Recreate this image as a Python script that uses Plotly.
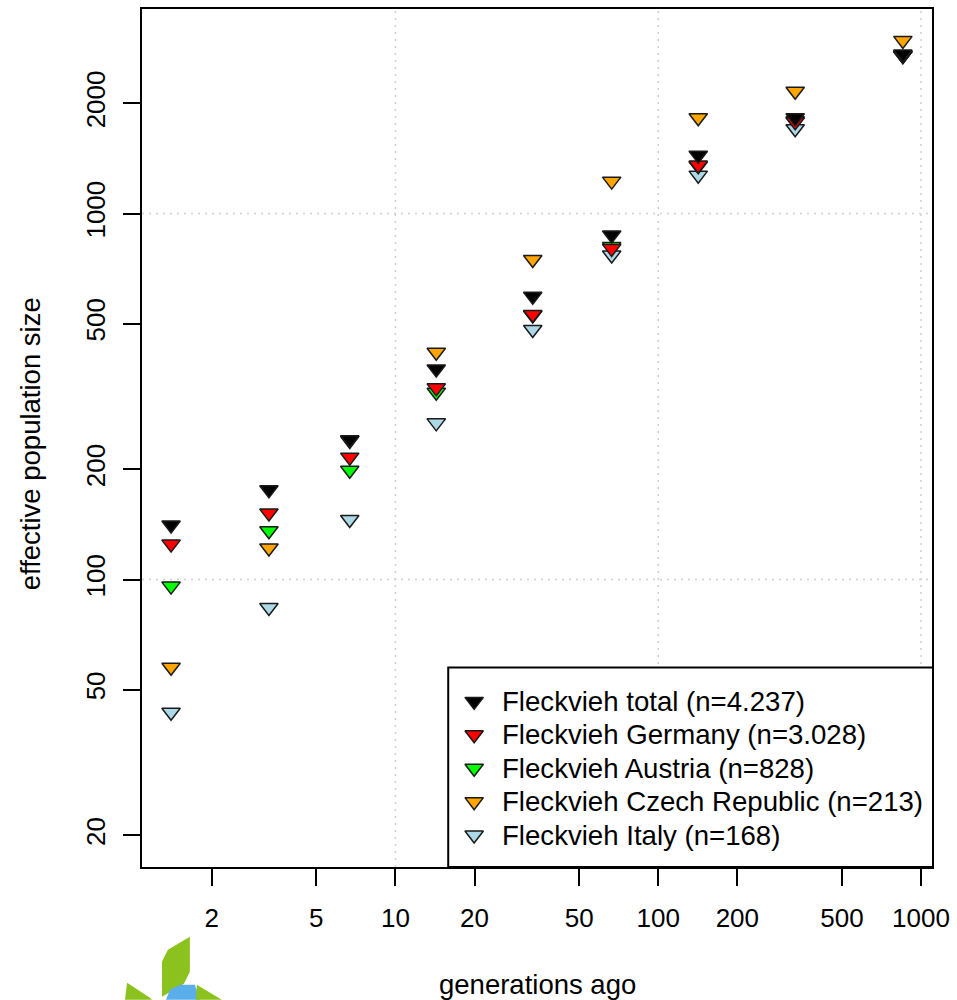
import plotly.graph_objects as go

# ---- data ----
generations = [1.4, 3.3, 6.7, 14.3, 33.3, 66.5, 142, 332, 853]
ne_total = [141, 176, 241, 376, 594, 874, 1443, 1826, 2729]
ne_germany = [125, 152, 216, 334, 530, 803, 1356, 1781, 2700]
ne_austria = [96, 136, 199, 325, 528, 813, 1350, 1792, 2700]
ne_czech = [57.6, 122, 240, 418, 749, 1226, 1826, 2157, 2971]
ne_italy = [43.4, 83.9, 146, 268, 482, 770, 1273, 1704, 2700]

series_names = [
    "Fleckvieh total (n=4.237)",
    "Fleckvieh Germany (n=3.028)",
    "Fleckvieh Austria (n=828)",
    "Fleckvieh Czech Republic (n=213)",
    "Fleckvieh Italy (n=168)",
]
series_values = [ne_total, ne_germany, ne_austria, ne_czech, ne_italy]
series_colors = ["#000000", "#ff0000", "#00ff00", "#ffa500", "#add8e6"]

x_ticks = [2, 5, 10, 20, 50, 100, 200, 500, 1000]
y_ticks = [20, 50, 100, 200, 500, 1000, 2000]
x_grid = [10, 100, 1000]
y_grid = [100, 1000]

FONT = "Arial, Liberation Sans, sans-serif"
MARKER_SIZE = 16
MARKER_LINE = dict(color="#1a1a1a", width=1.5)

# plot-area pixel box (for placing the legend box and decoration)
L, R_, T, B = 142, 934, 7, 867
def px(x, y):
    return (x - L) / (R_ - L), (B - y) / (B - T)

fig = go.Figure()
# draw in reverse so that "total" is on top
for name, vals, col in reversed(list(zip(series_names, series_values, series_colors))):
    fig.add_trace(go.Scatter(
        x=generations, y=vals, mode="markers", name=name, showlegend=False,
        marker=dict(symbol="triangle-down", size=MARKER_SIZE, color=col, line=MARKER_LINE),
    ))

# ---- legend (box + keys + labels), laid out like R's legend() ----
leg_left, leg_top, leg_right, leg_bottom = 449, 667, 935, 867
key_x = 475
text_x = 501
row_y = [701, 734.5, 768, 801.5, 835]
key_pos = [px(key_x, ry) for ry in row_y]
fig.add_trace(go.Scatter(
    x=[p[0] for p in key_pos], y=[p[1] for p in key_pos],
    xaxis="x2", yaxis="y2", mode="markers", showlegend=False, hoverinfo="skip",
    marker=dict(symbol="triangle-down", size=MARKER_SIZE, color=series_colors, line=MARKER_LINE),
))

shapes = []
for gx in x_grid:
    shapes.append(dict(type="line", xref="x", yref="paper", x0=gx, x1=gx,
                       y0=0, y1=1, layer="below",
                       line=dict(color="#cfcfcf", width=1.5, dash="2px,5px")))
for gy in y_grid:
    shapes.append(dict(type="line", xref="paper", yref="y", y0=gy, y1=gy,
                       x0=0, x1=1, layer="below",
                       line=dict(color="#cfcfcf", width=1.5, dash="2px,5px")))

lx0, ly0 = px(leg_left, leg_bottom)
lx1, ly1 = px(leg_right, leg_top)
shapes.append(dict(type="rect", xref="paper", yref="paper", x0=lx0, x1=lx1, y0=ly0, y1=ly1,
                   fillcolor="white", line=dict(color="black", width=2), layer="below"))

# decorative logo fragment (bottom-left)
def path(pts):
    s = ""
    for i, (x, y) in enumerate(pts):
        a, b = px(x, y)
        s += ("M" if i == 0 else "L") + f"{a:.4f},{b:.4f}"
    return s + "Z"
logo_green = "#8cc21e"
logo_blue = "#5aaeea"
logo = [
    ([(162, 962), (168, 950), (190, 937), (190, 972), (184, 984), (162, 997)], logo_green),
    ([(125, 1000), (127, 983), (150, 998), (152, 1000)], logo_green),
    ([(166, 1000), (170, 990), (180, 985), (195, 985), (200, 1000)], logo_blue),
    ([(196, 1000), (197, 985), (222, 1000)], logo_green),
]
for pts, c in logo:
    shapes.append(dict(type="path", xref="paper", yref="paper", path=path(pts),
                       fillcolor=c, line=dict(width=0), layer="above"))

annotations = [
    dict(text="generations ago", xref="paper", yref="paper", x=0.5, y=-0.1372,
         xanchor="center", yanchor="middle", showarrow=False,
         font=dict(family=FONT, size=27.5)),
    dict(text="effective population size", xref="paper", yref="paper", x=-0.1414, y=0.493,
         xanchor="center", yanchor="middle", showarrow=False, textangle=-90,
         font=dict(family=FONT, size=27.5)),
]
for name, ry in zip(series_names, row_y):
    ax, ay = px(text_x, ry)
    annotations.append(dict(text=name, xref="paper", yref="paper", x=ax, y=ay,
                            xanchor="left", yanchor="middle", showarrow=False,
                            font=dict(family=FONT, size=27.6, color="black")))

fig.update_layout(
    width=957, height=1000,
    margin=dict(l=142, r=23, t=7, b=133),
    paper_bgcolor="white", plot_bgcolor="white",
    font=dict(family=FONT, size=26, color="black"),
    showlegend=False,
    shapes=shapes,
    annotations=annotations,
    xaxis=dict(
        type="log", range=[0.0355, 3.0418],
        tickvals=x_ticks, ticktext=[str(v) for v in x_ticks],
        ticks="outside", ticklen=17, tickwidth=2, tickcolor="black",
        showgrid=False, zeroline=False,
        showline=True, linecolor="black", linewidth=2, mirror=True,
        tickfont=dict(family=FONT, size=26), ticklabelstandoff=10,
    ),
    yaxis=dict(
        type="log", range=[1.2149, 3.5587],
        tickvals=y_ticks, ticktext=[str(v) for v in y_ticks],
        ticks="outside", ticklen=17, tickwidth=2, tickcolor="black",
        showgrid=False, zeroline=False,
        showline=True, linecolor="black", linewidth=2, mirror=True,
        tickangle=-90,
        tickfont=dict(family=FONT, size=26), ticklabelstandoff=8,
    ),
    xaxis2=dict(overlaying="x", range=[0, 1], visible=False, fixedrange=True),
    yaxis2=dict(overlaying="y", range=[0, 1], visible=False, fixedrange=True),
)

fig.write_html("out.html", config={"displayModeBar": False},
               post_script="document.body.style.margin='0';document.body.style.overflow='hidden';")
